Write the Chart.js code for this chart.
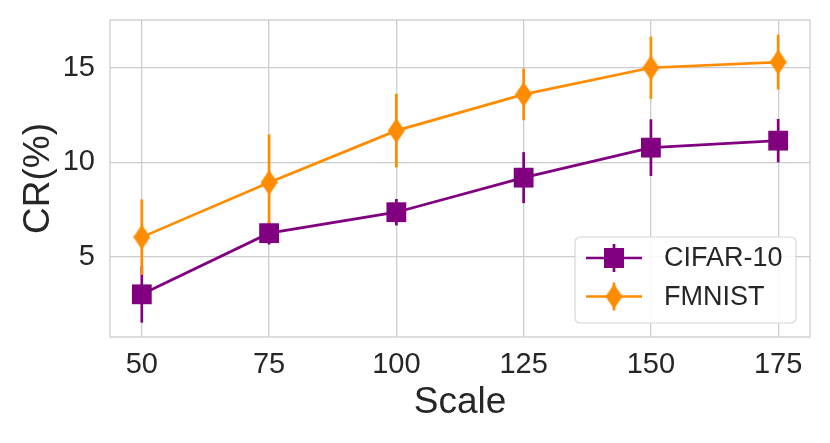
<!DOCTYPE html>
<html>
<head>
<meta charset="utf-8">
<script src="https://cdn.jsdelivr.net/npm/chart.js@4/dist/chart.umd.min.js"></script>
<style>
  html, body { margin: 0; padding: 0; background: #fff; }
  #wrap { width: 830px; height: 443px; }
</style>
</head>
<body>
<div id="wrap"><canvas id="crChart" width="830" height="443"></canvas></div>
<script>
// data
const scaleValues = [50, 75, 100, 125, 150, 175];
const cifarCR = [3.0, 6.24, 7.35, 9.18, 10.77, 11.14];
const cifarErr = [1.5, 0.6, 0.7, 1.35, 1.5, 1.15];
const fmnistCR = [6.03, 8.92, 11.67, 13.59, 15.0, 15.3];
const fmnistErr = [2.0, 2.55, 1.95, 1.37, 1.65, 1.45];
const xTicks = [50, 75, 100, 125, 150, 175];
const yTicks = [5, 10, 15];

const PURPLE = '#800080';
const ORANGE = '#ff8c00';
const GRID = '#cccccc';
const TEXT = '#262626';
const FONT = "'Liberation Sans', Arial, sans-serif";

// thin diamond marker like matplotlib 'd'
function diamond(color, w, h) {
  const c = document.createElement('canvas');
  c.width = w; c.height = h;
  const g = c.getContext('2d');
  g.fillStyle = color;
  g.beginPath();
  g.moveTo(w / 2, 0);
  g.lineTo(w, h / 2);
  g.lineTo(w / 2, h);
  g.lineTo(0, h / 2);
  g.closePath();
  g.fill();
  return c;
}
const diamondImg = diamond(ORANGE, 17, 25);

const toPoints = (ys) => scaleValues.map((x, i) => ({ x: x, y: ys[i] }));

// error bars, drawn under the lines and markers
const errorBars = {
  id: 'errorBars',
  beforeDatasetsDraw(chart) {
    const ctx = chart.ctx;
    const xs = chart.scales.x, ys = chart.scales.y;
    const sets = [[cifarCR, cifarErr, PURPLE], [fmnistCR, fmnistErr, ORANGE]];
    ctx.save();
    ctx.lineWidth = 2.7;
    sets.forEach(([vals, errs, col]) => {
      ctx.strokeStyle = col;
      vals.forEach((v, i) => {
        const px = xs.getPixelForValue(scaleValues[i]);
        ctx.beginPath();
        ctx.moveTo(px, ys.getPixelForValue(v - errs[i]));
        ctx.lineTo(px, ys.getPixelForValue(v + errs[i]));
        ctx.stroke();
      });
    });
    ctx.restore();
  }
};

// frame on all four sides + legend box in the lower right
const frameAndLegend = {
  id: 'frameAndLegend',
  afterDraw(chart) {
    const ctx = chart.ctx;
    const a = chart.chartArea;
    ctx.save();
    ctx.strokeStyle = GRID;
    ctx.lineWidth = 1.3;
    ctx.strokeRect(a.left, a.top, a.right - a.left, a.bottom - a.top);

    // legend
    const bx = 575, by = 237, bw = 221, bh = 86, r = 5;
    ctx.fillStyle = 'rgba(255,255,255,0.85)';
    ctx.strokeStyle = '#d6d6d6';
    ctx.lineWidth = 1.2;
    ctx.beginPath();
    ctx.roundRect(bx, by, bw, bh, r);
    ctx.fill();
    ctx.stroke();

    const rows = chart.data.datasets.slice().sort((p, q) => q.order - p.order);
    rows.forEach((ds, i) => {
      const cy = 258 + i * 38.5;
      ctx.strokeStyle = ds.borderColor;
      ctx.lineWidth = 2.7;
      ctx.beginPath();
      ctx.moveTo(586, cy);
      ctx.lineTo(642, cy);
      ctx.moveTo(614, cy - 14);
      ctx.lineTo(614, cy + 14);
      ctx.stroke();
      if (ds.pointStyle === 'rect') {
        ctx.fillStyle = ds.borderColor;
        ctx.fillRect(604, cy - 10, 20, 20);
      } else {
        ctx.drawImage(diamondImg, 614 - diamondImg.width / 2, cy - diamondImg.height / 2);
      }
      ctx.fillStyle = TEXT;
      ctx.font = '27px ' + FONT;
      ctx.textBaseline = 'middle';
      ctx.textAlign = 'left';
      ctx.fillText(ds.label, 664, cy + 1);
    });
    ctx.restore();
  }
};

const data = {
  datasets: [
    {
      label: 'CIFAR-10',
      data: toPoints(cifarCR),
      borderColor: PURPLE,
      backgroundColor: PURPLE,
      borderWidth: 2.7,
      pointStyle: 'rect',
      pointRadius: 14,
      pointBorderWidth: 0,
      order: 2
    },
    {
      label: 'FMNIST',
      data: toPoints(fmnistCR),
      borderColor: ORANGE,
      backgroundColor: ORANGE,
      borderWidth: 2.7,
      pointStyle: diamondImg,
      pointRadius: 13,
      order: 1
    }
  ]
};

const config = {
  type: 'line',
  data,
  options: {
    responsive: false,
    animation: false,
    devicePixelRatio: 1,
    layout: { padding: { top: 20, right: 20, left: 0, bottom: 0 } },
    plugins: { legend: { display: false }, tooltip: { enabled: false } },
    scales: {
      x: {
        type: 'linear',
        min: 43.75,
        max: 181.25,
        afterBuildTicks: (s) => { s.ticks = xTicks.map((v) => ({ value: v })); },
        afterFit: (s) => { s.height = 106; s.paddingLeft = 0; s.paddingRight = 0; },
        grid: { color: GRID, lineWidth: 1.3, drawTicks: false },
        border: { display: false },
        ticks: { color: TEXT, font: { family: FONT, size: 29 }, padding: 11, maxRotation: 0 },
        title: { display: true, text: 'Scale', color: TEXT, font: { family: FONT, size: 37 }, padding: { top: 18, bottom: 18 } }
      },
      y: {
        min: 0.74,
        max: 17.53,
        afterBuildTicks: (s) => { s.ticks = yTicks.map((v) => ({ value: v })); },
        afterFit: (s) => { s.width = 110; s.paddingTop = 0; s.paddingBottom = 0; },
        grid: { color: GRID, lineWidth: 1.3, drawTicks: false },
        border: { display: false },
        ticks: { color: TEXT, font: { family: FONT, size: 29 }, padding: 15 },
        title: { display: true, text: 'CR(%)', color: TEXT, font: { family: FONT, size: 37 }, padding: { top: 17, bottom: 17 } }
      }
    }
  },
  plugins: [errorBars, frameAndLegend]
};

const canvas = document.getElementById('crChart');
new Chart(canvas, config);
</script>
</body>
</html>
